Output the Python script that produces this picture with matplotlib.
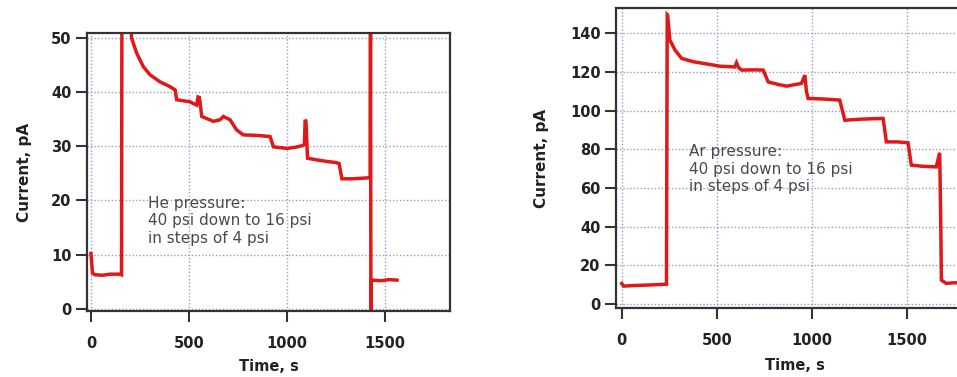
import matplotlib.pyplot as plt

# He run: time (s) and current (pA)
he_time = [0, 8, 20, 60, 100, 150, 156, 158, 200, 207, 233, 267, 301, 352, 403, 429,
           437, 470, 505, 539, 546, 553, 565, 624, 658, 675, 709, 743, 777,
           850, 913, 930, 998, 1040, 1075, 1088, 1092, 1096, 1104, 1150, 1202, 1250,
           1265, 1279, 1330, 1380, 1423, 1425, 1427, 1429, 1432, 1480, 1520, 1560]
he_curr = [10.2, 6.6, 6.3, 6.2, 6.4, 6.4, 6.3, 56, 56, 50, 47.2, 44.7, 43.2, 41.9, 41.0, 40.4,
           38.6, 38.4, 38.2, 37.6, 39.1, 39.0, 35.5, 34.6, 34.9, 35.5, 34.9, 33.0, 32.1,
           32.0, 31.8, 29.9, 29.6, 29.8, 30.1, 30.3, 34.9, 34.6, 27.8, 27.5, 27.2, 27.0,
           26.8, 24.0, 24.0, 24.1, 24.2, 56, -2, 5.2, 5.3, 5.2, 5.4, 5.3]

# Ar run
ar_time = [0, 10, 60, 150, 235, 239, 241, 253, 280, 315, 376, 450, 516, 594, 603,
           615, 630, 700, 743, 769, 820, 866, 944, 962, 970, 979, 1050,
           1145, 1172, 1250, 1330, 1373, 1390, 1450, 1504, 1521, 1580, 1652, 1670,
           1673, 1676, 1679, 1705, 1740, 1850]
ar_curr = [10.7, 9.3, 9.6, 9.9, 10.3, 149.5, 149.3, 136.4, 131.2, 126.9, 125.2, 124.0, 122.9, 122.5, 124.7,
           122, 120.9, 121.0, 120.9, 114.8, 113.5, 112.6, 114.0, 118.3, 110, 106.2, 106.0,
           105.4, 95.0, 95.5, 95.8, 95.9, 83.8, 83.8, 83.3, 71.8, 71.2, 70.9, 78.2,
           60, 40, 12.4, 10.7, 11.0, 11.2]

he_note = "He pressure:\n40 psi down to 16 psi\nin steps of 4 psi"
ar_note = "Ar pressure:\n40 psi down to 16 psi\nin steps of 4 psi"

plt.rcParams['font.family'] = ['DejaVu Sans']

red = '#e01818'
grid_col = '#9a9ad0'

fig = plt.figure(figsize=(9.57, 3.77), dpi=100)


def style_axes(ax, xpad, xlabelpad, ylabelpad):
    for s in ax.spines.values():
        s.set_linewidth(1.6)
        s.set_color('#333333')
    ax.tick_params(direction='out', length=8, width=1.5, color='#333333', labelsize=10.5)
    ax.tick_params(axis='x', pad=xpad)
    ax.tick_params(axis='y', pad=3)
    for lab in ax.get_xticklabels() + ax.get_yticklabels():
        lab.set_fontweight('bold')
        lab.set_color('#222222')
    ax.grid(True, linestyle=(0, (1, 1.5)), linewidth=1.0, color=grid_col)
    ax.set_axisbelow(True)
    ax.set_xlabel('Time, s', fontsize=10.5, fontweight='bold', color='#222222', labelpad=xlabelpad)
    ax.set_ylabel('Current, pA', fontsize=11, fontweight='bold', color='#222222', labelpad=ylabelpad)


# left panel: He
ax1 = fig.add_axes([0.0909, 0.175, 0.3793, 0.7374])
ax1.plot(he_time, he_curr, color=red, linewidth=2.5, solid_joinstyle='miter')
ax1.set_xlim(-20, 1830)
ax1.set_ylim(-0.4, 50.9)
ax1.set_xticks([0, 500, 1000, 1500])
ax1.set_yticks([0, 10, 20, 30, 40, 50])
style_axes(ax1, xpad=10, xlabelpad=5.5, ylabelpad=14)
ax1.text(0.168, 0.414, he_note, transform=ax1.transAxes, fontsize=11,
         color='#4a4a4a', va='top', linespacing=1.2)

# right panel: Ar (runs off the right edge)
ax2 = fig.add_axes([0.6437, 0.183, 0.374, 0.796])
ax2.plot(ar_time, ar_curr, color=red, linewidth=2.5, solid_joinstyle='miter')
ax2.set_xlim(-30, 1850)
ax2.set_ylim(-2, 153)
ax2.set_xticks([0, 500, 1000, 1500])
ax2.set_yticks([0, 20, 40, 60, 80, 100, 120, 140])
style_axes(ax2, xpad=10, xlabelpad=7.5, ylabelpad=15)
ax2.text(0.204, 0.545, ar_note, transform=ax2.transAxes, fontsize=11,
         color='#4a4a4a', va='top', linespacing=1.2)

fig.savefig('out.png', dpi=100)
